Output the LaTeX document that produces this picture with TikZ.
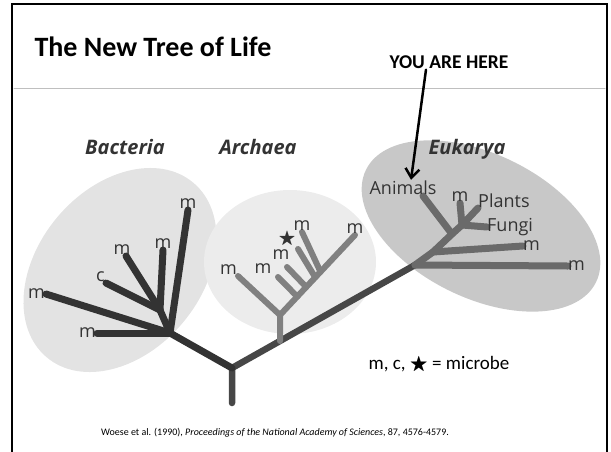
\documentclass[tikz,border=0pt]{standalone}
\usepackage{amssymb}
\usepackage{fontspec}
\setmainfont{Carlito}
\newfontfamily\treefont{Open Sans}
\usetikzlibrary{arrows.meta,calc}

\begin{document}
\begin{tikzpicture}[x=1pt, y=-1pt, line cap=round,
    branch/.style={line width=7pt},
    leaf/.style={font=\treefont\fontsize{18}{18}\selectfont, text=labelColour, inner sep=1pt},
    domainlabel/.style={font=\treefont\bfseries\itshape\fontsize{20}{20}\selectfont, text=labelColour, anchor=base}]

    \definecolor{labelColour}{HTML}{333333}
    \definecolor{bactFill}{HTML}{E3E3E3}
    \definecolor{archFill}{HTML}{ECECEC}
    \definecolor{eukFill}{HTML}{C8C8C8}
    \definecolor{bactLine}{HTML}{333333}
    \definecolor{trunkLine}{HTML}{474747}
    \definecolor{archLine}{HTML}{808080}
    \definecolor{eukLine}{HTML}{6A6A6A}

    \useasboundingbox (0,0) rectangle (611,451);

    % Slide frame and title rule
    \draw[line width=2.5pt] (12,460) -- (12,4) -- (607,4) -- (607,460);
    \draw[gray!50, line width=1pt] (14,88) -- (605,88);

    % Title
    \node[anchor=west, font=\bfseries\fontsize{28}{28}\selectfont] (title) at (31,47) {The New Tree of Life};
    \node[font=\bfseries\fontsize{19.5}{19.5}\selectfont, inner sep=1pt] (here) at (449,62) {YOU ARE HERE};

    % Domain clouds
    \coordinate (bCentre) at (120,270);
    \coordinate (aCentre) at (290,262);
    \coordinate (eCentre) at (481,226);
    \fill[bactFill, rotate around={50:(bCentre)}] (bCentre) ellipse [x radius=114pt, y radius=82pt];
    \fill[archFill] (aCentre) ellipse [x radius=86pt, y radius=72pt];
    \fill[eukFill, rotate around={-26:(eCentre)}] (eCentre) ellipse [x radius=128pt, y radius=72pt];

    \node[domainlabel] (bact) at (125,154) {Bacteria};
    \node[domainlabel] (arch) at (258,154) {Archaea};
    \node[domainlabel] (euk) at (467,154) {Eukarya};

    % Trunk
    \coordinate (tBot) at (232,403);
    \coordinate (tJoin) at (232,368);
    \coordinate (bRoot) at (170,333);
    \coordinate (aBase) at (280,341);
    \coordinate (eRoot) at (415,265);
    \draw[branch, trunkLine, line width=6.5pt] (tBot) -- (tJoin) -- (eRoot);
    \draw[branch, bactLine] (tJoin) -- (bRoot);

    % Bacteria branches
    \coordinate (bJoin) at (160,310);
    \coordinate (bT1) at (188,210);
    \coordinate (bT2) at (163,250);
    \coordinate (bT3) at (126,256);
    \coordinate (bT4) at (106,283);
    \coordinate (bT5) at (46,294);
    \coordinate (bT6) at (97,333);
    \draw[branch, bactLine] (bRoot) -- (bT1);
    \draw[branch, bactLine] (bRoot) -- (bJoin);
    \foreach \t in {bT2,bT3,bT4}
        \draw[branch, bactLine] (bJoin) -- (\t);
    \draw[branch, bactLine] (bRoot) -- (bT5);
    \draw[branch, bactLine] (bRoot) -- (bT6);

    \node[leaf, above] (bm1) at (bT1) {m};
    \node[leaf, above] (bm2) at (bT2) {m};
    \node[leaf, above, xshift=-4pt] (bm3) at (bT3) {m};
    \node[leaf, above left] (bc) at (bT4) {c};
    \node[leaf, left] (bm5) at (bT5) {m};
    \node[leaf, left] (bm6) at (bT6) {m};

    % Archaea branches
    \coordinate (aJoin) at (280,315);
    \coordinate (aTL) at (238,276);
    \coordinate (aTR) at (355,235);
    \draw[branch, archLine, line width=6pt] (aBase) -- (aJoin) -- (aTL);
    \draw[branch, archLine, line width=6pt] (aJoin) -- (aTR);
    \foreach \f/\tx/\ty [count=\i] in {0.23/278/277, 0.35/287/267, 0.47/298/249, 0.54/302/232}{
        \coordinate (aT\i) at (\tx,\ty);
        \draw[branch, archLine, line width=6pt] ($(aJoin)!\f!(aTR)$) -- (aT\i);
    }

    \node[leaf, above left] (am1) at (aTL) {m};
    \node[leaf, inner sep=0pt] (am2) at ($(aT1)+(-15,-8)$) {m};
    \node[leaf, inner sep=0pt] (am3) at ($(aT2)+(-6,-12)$) {m};
    \node[leaf, inner sep=0pt] (astar) at ($(aT3)+(-11,-10)$) {$\bigstar$};
    \node[leaf, above] (am4) at (aT4) {m};
    \node[leaf, above] (am5) at (aTR) {m};

    % Eukarya branches
    \coordinate (eJ1) at (433,252);
    \coordinate (eJ2) at (452,234);
    \coordinate (eJ3) at (462,225);
    \coordinate (eT1) at (568,266);
    \coordinate (eT2) at (523,246);
    \coordinate (eT3) at (423,196);
    \coordinate (eT4) at (460,203);
    \coordinate (eT5) at (478,208);
    \coordinate (eT6) at (487,227);
    \draw[branch, eukLine] (eRoot) -- (eT1);
    \draw[branch, eukLine] (eRoot) -- (eJ1) -- (eJ2) -- (eJ3);
    \draw[branch, eukLine] (eJ1) -- (eT2);
    \draw[branch, eukLine] (eJ2) -- (eT3);
    \foreach \t in {eT4,eT5,eT6}
        \draw[branch, eukLine] (eJ3) -- (\t);

    \node[leaf, right, inner sep=0pt] (em1) at (eT1) {m};
    \node[leaf, right, inner sep=0pt] (em2) at (eT2) {m};
    \node[leaf, above, xshift=-20pt] (animals) at (eT3) {Animals};
    \node[leaf, above] (em3) at (eT4) {m};
    \node[leaf, above right, inner sep=0pt] (plants) at (eT5) {Plants};
    \node[leaf, right, inner sep=0pt] (fungi) at (eT6) {Fungi};

    % You are here
    \draw[line width=2.5pt, -{Straight Barb[length=9pt, width=14pt]}] ([xshift=-23pt]here.south) -- ([xshift=8pt]animals.north);

    % Legend and reference
    \node[font=\fontsize{19}{19}\selectfont] (legend) at (439,365) {m, c, $\bigstar$ = microbe};
    \node[font=\fontsize{10}{10}\selectfont] (cite) at (275,433) {Woese et al. (1990), \textit{Proceedings of the National Academy of Sciences}, 87, 4576-4579.};

\end{tikzpicture}
\end{document}
